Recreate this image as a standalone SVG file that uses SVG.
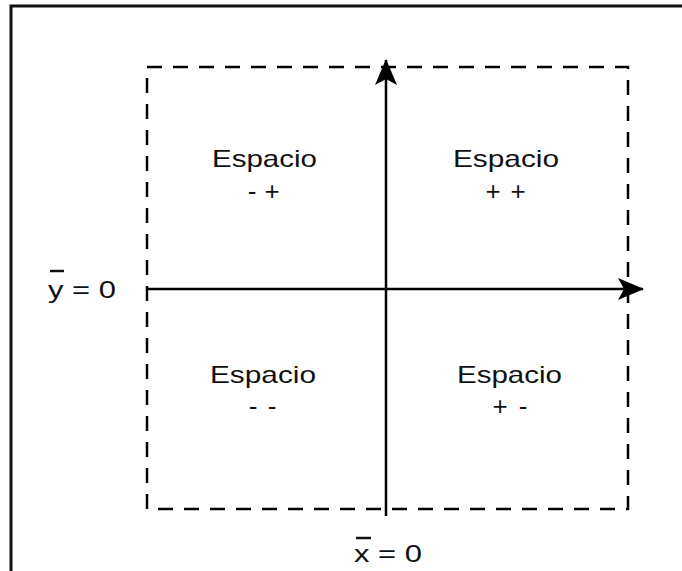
<svg xmlns="http://www.w3.org/2000/svg" width="682" height="571" viewBox="0 0 682 571">
<style>
.t{font-family:"Liberation Sans",Arial,sans-serif;font-size:24px;fill:#111}
.s{font-family:"Liberation Sans",Arial,sans-serif;font-size:26px;fill:#111;text-anchor:middle}
.ax{stroke:#000;stroke-width:2.5;fill:none}
.bar{stroke:#111;stroke-width:2.5}
</style>
<defs>
<marker id="ah" markerWidth="26" markerHeight="22" refX="25" refY="11" orient="auto" markerUnits="userSpaceOnUse">
<path d="M0,0 L26,11 L0,22 L6,11 Z" fill="#000"/>
</marker>
</defs>
<rect x="0" y="0" width="682" height="571" fill="#fff"/>
<rect id="frame" x="11" y="6" width="700" height="600" fill="none" stroke="#111" stroke-width="3"/>
<rect id="region" x="147" y="67" width="481" height="442" fill="none" stroke="#000" stroke-width="2.5" stroke-dasharray="15 11"/>
<g id="connectors">
<line class="ax" x1="386" y1="516" x2="386" y2="60" marker-end="url(#ah)"/>
<line class="ax" x1="146" y1="289" x2="643" y2="289" marker-end="url(#ah)"/>
</g>
<g id="q-minus-plus">
<text class="t" x="212" y="167" textLength="105" lengthAdjust="spacingAndGlyphs">Espacio</text>
<text class="s" x="252" y="200">-</text><text class="s" x="272" y="200">+</text>
</g>
<g id="q-plus-plus">
<text class="t" x="453" y="167" textLength="106" lengthAdjust="spacingAndGlyphs">Espacio</text>
<text class="s" x="493" y="200">+</text><text class="s" x="518" y="200">+</text>
</g>
<g id="q-minus-minus">
<text class="t" x="210" y="383" textLength="106" lengthAdjust="spacingAndGlyphs">Espacio</text>
<text class="s" x="253" y="415">-</text><text class="s" x="272" y="415">-</text>
</g>
<g id="q-plus-minus">
<text class="t" x="457" y="383" textLength="105" lengthAdjust="spacingAndGlyphs">Espacio</text>
<text class="s" x="500" y="415">+</text><text class="s" x="523" y="415">-</text>
</g>
<g id="label-y">
<text class="t" x="48" y="298" textLength="68" lengthAdjust="spacingAndGlyphs">y = 0</text>
<line class="bar" x1="50" y1="271" x2="64" y2="271"/>
</g>
<g id="label-x">
<text class="t" x="354" y="562" textLength="68" lengthAdjust="spacingAndGlyphs">x = 0</text>
<line class="bar" x1="356" y1="538" x2="371" y2="538"/>
</g>
</svg>
